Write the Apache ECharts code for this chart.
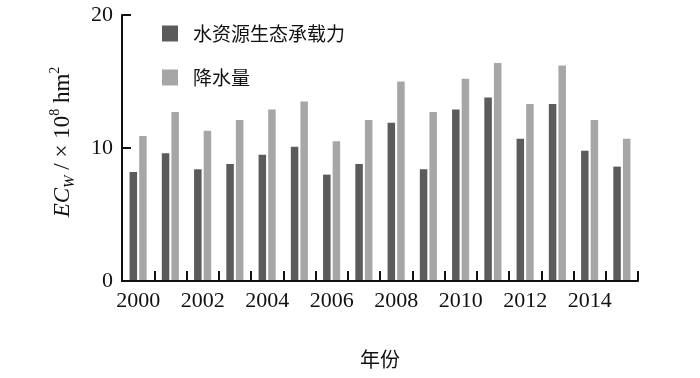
<!DOCTYPE html>
<html>
<head>
<meta charset="utf-8">
<script src="https://cdn.jsdelivr.net/npm/echarts@6/dist/echarts.min.js"></script>
<style>html,body{margin:0;padding:0;background:#fff}#c{width:700px;height:378px}</style>
</head>
<body>
<div id="c"></div>
<script>
var years = ['2000','2001','2002','2003','2004','2005','2006','2007','2008','2009','2010','2011','2012','2013','2014','2015'];
var capacity = [8.2, 9.6, 8.4, 8.8, 9.5, 10.1, 8.0, 8.8, 11.9, 8.4, 12.9, 13.8, 10.7, 13.3, 9.8, 8.6];
var rainfall = [10.9, 12.7, 11.3, 12.1, 12.9, 13.5, 10.5, 12.1, 15.0, 12.7, 15.2, 16.4, 13.3, 16.2, 12.1, 10.7];
var seriesNames = ['水资源生态承载力', '降水量'];
var yTicks = [0, 10, 20];

var serif = '"Liberation Serif", "Times New Roman", serif';
var cjk = '"Noto Sans CJK SC", sans-serif';
var chart = echarts.init(document.getElementById('c'), null, {renderer: 'canvas'});
chart.setOption({
  animation: false,
  backgroundColor: '#fff',
  grid: {left: 122, right: 62, top: 15, bottom: 97},
  legend: {
    orient: 'vertical', left: 157, top: 19, itemWidth: 16, itemHeight: 16, itemGap: 25,
    icon: 'rect',
    textStyle: {fontFamily: cjk, fontSize: 19, color: '#111', padding: [0, 0, 0, 10]},
    data: seriesNames
  },
  xAxis: {
    type: 'category', data: years, boundaryGap: true,
    name: '年份', nameLocation: 'middle', nameGap: 68,
    nameTextStyle: {fontFamily: cjk, fontSize: 20, color: '#111'},
    axisLine: {lineStyle: {color: '#111', width: 2}},
    axisTick: {show: true, inside: true, length: 10, lineStyle: {color: '#111', width: 2}, interval: 0},
    axisLabel: {interval: 1, margin: 9, fontFamily: serif, fontSize: 22, color: '#111'},
    z: 10
  },
  yAxis: {
    type: 'value', min: yTicks[0], max: yTicks[yTicks.length - 1], interval: 10,
    name: '{i|EC}{sub|W}{n| / × 10}{sup|8}{n| hm}{sup|2}',
    nameLocation: 'middle', nameGap: 44, nameRotate: 90,
    nameTextStyle: {
      padding: [0, 0, 0, 12],
      rich: {
        i: {fontFamily: serif, fontStyle: 'italic', fontSize: 23, color: '#111', lineHeight: 30, verticalAlign: 'middle'},
        sub: {fontFamily: serif, fontStyle: 'italic', fontSize: 15, color: '#111', lineHeight: 30, verticalAlign: 'bottom'},
        n: {fontFamily: serif, fontSize: 23, color: '#111', lineHeight: 30, verticalAlign: 'middle'},
        sup: {fontFamily: serif, fontSize: 14, color: '#111', lineHeight: 30, verticalAlign: 'top'}
      }
    },
    axisLine: {show: true, lineStyle: {color: '#111', width: 2}},
    axisTick: {show: true, inside: true, length: 9, lineStyle: {color: '#111', width: 2}},
    axisLabel: {margin: 9, fontFamily: serif, fontSize: 22, color: '#111'},
    splitLine: {show: false}
  },
  series: [
    {name: seriesNames[0], type: 'bar', data: capacity, barWidth: 7.5, barGap: '28%', itemStyle: {color: '#5b5b5b'}},
    {name: seriesNames[1], type: 'bar', data: rainfall, barWidth: 7.5, itemStyle: {color: '#a6a6a6'}}
  ]
});
</script>
</body>
</html>
